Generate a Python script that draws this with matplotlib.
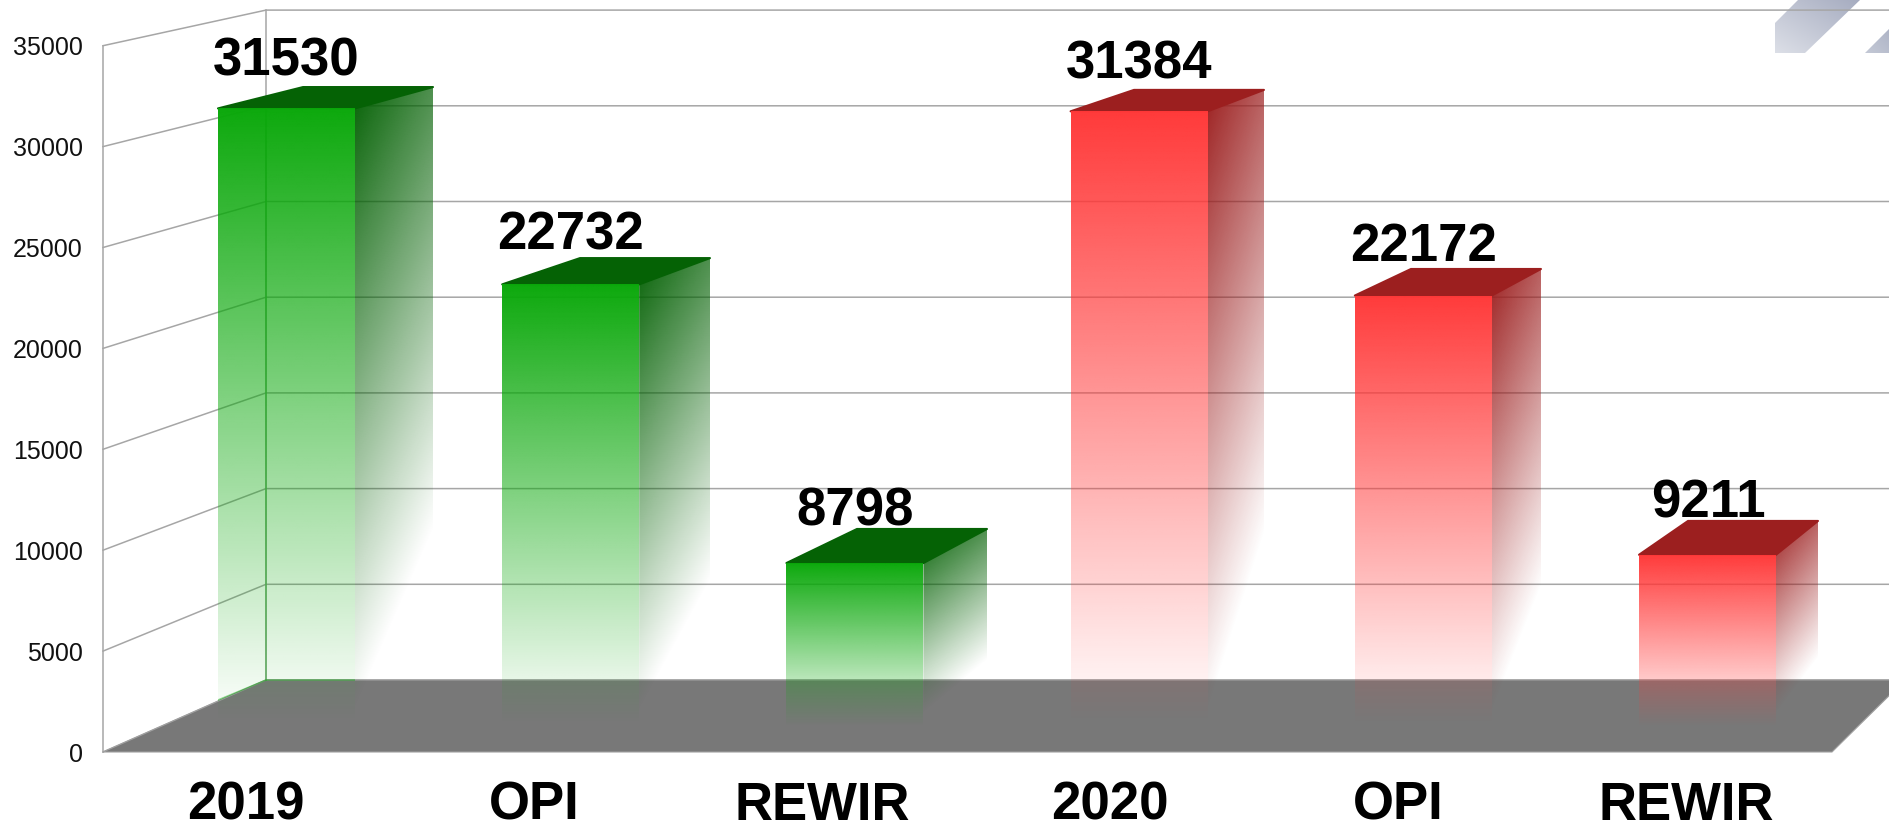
import numpy as np
import matplotlib
matplotlib.use("Agg")
import matplotlib.pyplot as plt
from matplotlib.colors import to_rgb
from matplotlib.patches import Polygon

categories = ["2019", "OPI", "REWIR", "2020", "OPI", "REWIR"]
values = [31530, 22732, 8798, 31384, 22172, 9211]
y_ticks = [0, 5000, 10000, 15000, 20000, 25000, 30000, 35000]
front_colors = ["#0aa80a"] * 3 + ["#ff3838"] * 3
top_colors = ["#056205"] * 3 + ["#9c1f1f"] * 3

W, H = 1890, 824
plt.rcParams["font.family"] = ["Liberation Sans", "DejaVu Sans"]


# the picture is a fake 3D chart, so planes are mapped by hand in pixel space
def wall_front(v):
    return 752 - v * 0.02018


def wall_back(v):
    return 680 - v * 0.01914


def bar_front(v):
    return 739 - v * 0.0200


def bar_back(v):
    return 700 - v * 0.01944


def gradient_patch(ax, poly, color, x0, x1, y0, y1, slant=0.0, zorder=3):
    """Fill a polygon with a colour that fades to transparent downwards."""
    patch = Polygon(poly, closed=True, transform=ax.transData, fc="none", ec="none")
    ax.add_patch(patch)
    xx, yy = np.meshgrid(np.linspace(0, 1, 60), np.linspace(0, 1, 300))
    rgba = np.zeros((300, 60, 4))
    rgba[..., :3] = to_rgb(color)
    rgba[..., 3] = np.clip(0.99 - yy - slant * xx, 0, 1)
    im = ax.imshow(rgba, extent=(x0, x1, y1, y0), aspect="auto", zorder=zorder,
                   interpolation="bilinear", origin="upper")
    im.set_clip_path(patch)
    return patch


def diagonal_band(ax, poly, c0, c1):
    patch = Polygon(poly, closed=True, transform=ax.transData, fc="none", ec="none")
    ax.add_patch(patch)
    xs = [p[0] for p in poly]
    ys = [p[1] for p in poly]
    xx, yy = np.meshgrid(np.linspace(0, 1, 60), np.linspace(0, 1, 60))
    t = (xx + 1 - yy)[..., None] / 2
    rgb = np.array(to_rgb(c0)) * (1 - t) + np.array(to_rgb(c1)) * t
    im = ax.imshow(rgb, extent=(min(xs), max(xs), max(ys), min(ys)), aspect="auto",
                   zorder=1, interpolation="bilinear")
    im.set_clip_path(patch)


fig = plt.figure(figsize=(W / 100, H / 100), dpi=100)
ax = fig.add_axes([0, 0, 1, 1])
ax.axis("off")

# logo fragment top right
diagonal_band(ax, [(1775, 23), (1798, 0), (1860, 0), (1805, 53), (1775, 53)], "#dcdfe7", "#a6acc0")
diagonal_band(ax, [(1865, 53), (1890, 28), (1890, 53)], "#c4c9d6", "#aeb4c6")

# walls and grid
grid_c = "#a6a6a6"
for v in y_ticks:
    ax.plot([103, 266, W], [wall_front(v), wall_back(v), wall_back(v)], color=grid_c, lw=1.1, zorder=2)
    ax.text(83, wall_front(v), str(v), ha="right", va="center_baseline", fontsize=18, color="#111111")
ax.plot([103, 103], [wall_front(35000), wall_front(0)], color=grid_c, lw=1.1, zorder=2)
ax.plot([266, 266], [wall_back(35000), wall_back(0)], color=grid_c, lw=1.1, zorder=2)

# floor
ax.add_patch(Polygon([(103, 752), (266, 680), (1905, 680), (1832, 752)], closed=True,
                     fc="#787878", ec="#a0a0a0", lw=0.8, zorder=2.5))

for i, (cat, v) in enumerate(zip(categories, values)):
    fl = 218 + 284.2 * i
    fr = fl + 137
    br = 433 + 277 * i
    bl = br - 130
    yf, yb = bar_front(v), bar_back(v)
    yf0, yb0 = 728, 690

    # side, top, then front face
    side = [(fr, yf), (br, yb), (br, yb0), (fr, yf0)]
    gradient_patch(ax, side, top_colors[i], fr, br, yb, 715, slant=0.28)
    ax.add_patch(Polygon([(fl, yf), (bl, yb), (br, yb), (fr, yf)], closed=True,
                         fc=top_colors[i], ec=top_colors[i], lw=1.5, joinstyle="round", zorder=3))
    front = [(fl, yf), (fr, yf), (fr, yf0), (fl, yf0)]
    clip = gradient_patch(ax, front, front_colors[i], fl, fr, yf, yf0, zorder=4)

    if i == 0:
        # the wall corner shows through the first bar with a green tint
        for xs, ys in [([266, 266], [wall_back(35000), wall_back(0)]),
                       ([fl, 266, fr], [700, wall_back(0), wall_back(0)])]:
            line, = ax.plot(xs, ys, color=front_colors[i], lw=1.1, alpha=0.45, zorder=5)
            line.set_clip_path(clip)

    ax.text(285.7 + 284.5 * i, 700 - v * 0.0198, str(v), ha="center", va="baseline",
            fontsize=38, fontweight="bold", color="black", zorder=6)
    ax.text(246 + 288 * i, 820, cat, ha="center", va="baseline",
            fontsize=38, fontweight="bold", color="black", zorder=6)

ax.set_xlim(0, W)
ax.set_ylim(H, 0)
fig.savefig("out.png", dpi=100, facecolor="white")
plt.close(fig)
